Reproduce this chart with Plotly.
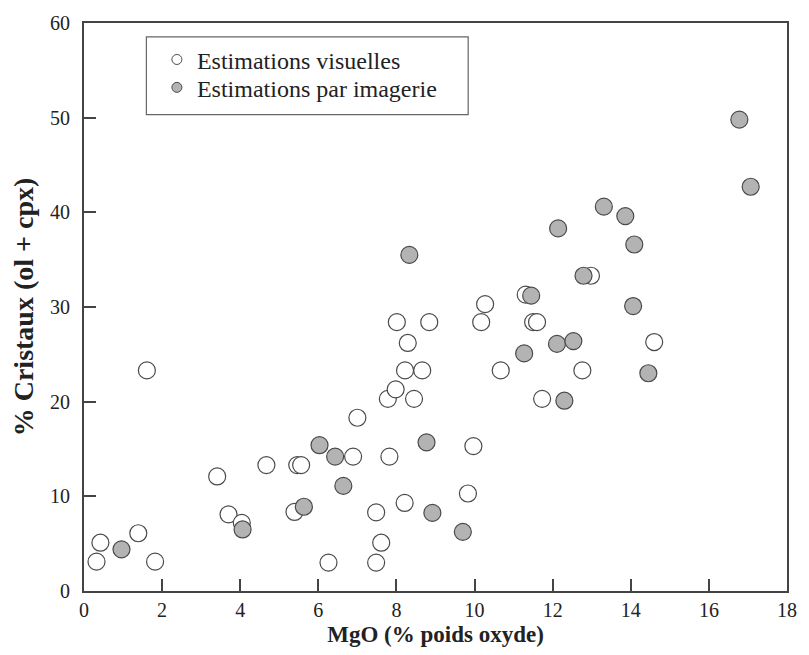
import plotly.graph_objects as go

# Estimations visuelles (open circles)
vis_x = [0.32, 0.42, 1.39, 1.82, 1.61, 3.41, 3.70, 4.04, 4.67, 5.39, 5.46, 5.56,
         6.26, 6.89, 7.00, 7.48, 7.48, 7.61, 7.82, 7.78, 7.98, 8.45, 8.21, 8.22,
         8.66, 8.29, 8.01, 8.84, 9.83, 9.97, 10.17, 10.27, 10.67, 11.31, 11.50,
         11.60, 11.73, 12.76, 12.98, 14.60]
vis_y = [3.1, 5.1, 6.1, 3.1, 23.3, 12.1, 8.1, 7.2, 13.3, 8.35, 13.3, 13.3,
         3.0, 14.2, 18.3, 8.3, 3.0, 5.1, 14.2, 20.3, 21.3, 20.3, 9.3, 23.3,
         23.3, 26.2, 28.4, 28.4, 10.3, 15.3, 28.4, 30.3, 23.3, 31.3, 28.4,
         28.4, 20.3, 23.3, 33.3, 26.3]

# Estimations par imagerie (grey circles)
img_x = [0.96, 4.06, 5.63, 6.03, 6.43, 6.64, 8.33, 8.77, 8.92, 9.70, 11.27, 11.45,
         12.11, 12.14, 12.30, 12.53, 12.79, 13.31, 13.86, 14.09, 14.06, 14.45,
         16.78, 17.07]
img_y = [4.4, 6.5, 8.9, 15.4, 14.2, 11.1, 35.5, 15.7, 8.25, 6.25, 25.1, 31.2,
         26.1, 38.3, 20.1, 26.4, 33.3, 40.6, 39.6, 36.6, 30.1, 23.0,
         49.8, 42.7]

x_ticks = [0, 2, 4, 6, 8, 10, 12, 14, 16, 18]
y_ticks = [0, 10, 20, 30, 40, 50, 60]

label_vis = "Estimations visuelles"
label_img = "Estimations par imagerie"

FONT = "Liberation Serif"
EDGE = "#4a4a4a"
GREY = "#b3b3b3"

fig = go.Figure()
fig.add_trace(go.Scatter(
    x=vis_x, y=vis_y, mode="markers", showlegend=False,
    marker=dict(size=17, color="white", line=dict(color=EDGE, width=1.2))))
fig.add_trace(go.Scatter(
    x=img_x, y=img_y, mode="markers", showlegend=False,
    marker=dict(size=17, color=GREY, line=dict(color=EDGE, width=1.2))))

# legend-only entries with smaller symbols, one per legend box row
fig.add_trace(go.Scatter(
    x=[None], y=[None], mode="markers", name=label_vis, legend="legend",
    marker=dict(size=10, color="white", line=dict(color=EDGE, width=1))))
fig.add_trace(go.Scatter(
    x=[None], y=[None], mode="markers", name=label_img, legend="legend2",
    marker=dict(size=10, color=GREY, line=dict(color=EDGE, width=1))))

leg_common = dict(xanchor="left", yanchor="middle", bgcolor="rgba(0,0,0,0)",
                  borderwidth=0, font=dict(family=FONT, size=24, color="#222"))

fig.update_layout(
    width=809, height=655,
    margin=dict(l=84, r=15, t=21, b=64),
    plot_bgcolor="white", paper_bgcolor="white",
    font=dict(family=FONT, size=20, color="#222"),
    legend=dict(x=0.1037, y=(591 - 58) / 570, **leg_common),
    legend2=dict(x=0.1037, y=(591 - 86) / 570, **leg_common),
    shapes=[dict(type="rect", xref="paper", yref="paper",
                 x0=(147 - 84) / 710, x1=(472 - 84) / 710,
                 y0=(591 - 113) / 570, y1=(591 - 35) / 570,
                 line=dict(color="#666", width=1.2), fillcolor="rgba(0,0,0,0)")],
)

fig.update_xaxes(
    range=[0, 18], tickvals=x_ticks, ticktext=[str(v) for v in x_ticks],
    showgrid=False, zeroline=False, showline=True, mirror=True,
    linecolor="#444", linewidth=2, ticks="inside", ticklen=12, tickwidth=2,
    tickcolor="#444", ticklabelstandoff=0,
    tickfont=dict(family=FONT, size=20, color="#222"),
    title=dict(text="<b>MgO (% poids oxyde)</b>", standoff=6,
               font=dict(family=FONT, size=23, color="#222")))
fig.update_yaxes(
    range=[0, 60], tickvals=y_ticks, ticktext=[str(v) for v in y_ticks],
    showgrid=False, zeroline=False, showline=True, mirror=True,
    linecolor="#444", linewidth=2, ticks="inside", ticklen=12, tickwidth=2,
    tickcolor="#444", ticklabelstandoff=8,
    tickfont=dict(family=FONT, size=20, color="#222"),
    title=dict(text="<b>% Cristaux (ol + cpx)</b>", standoff=8,
               font=dict(family=FONT, size=28, color="#222")))

fig.write_html("out.html", config={"displayModeBar": False},
               post_script="document.body.style.margin='0';document.body.style.overflow='hidden';")
